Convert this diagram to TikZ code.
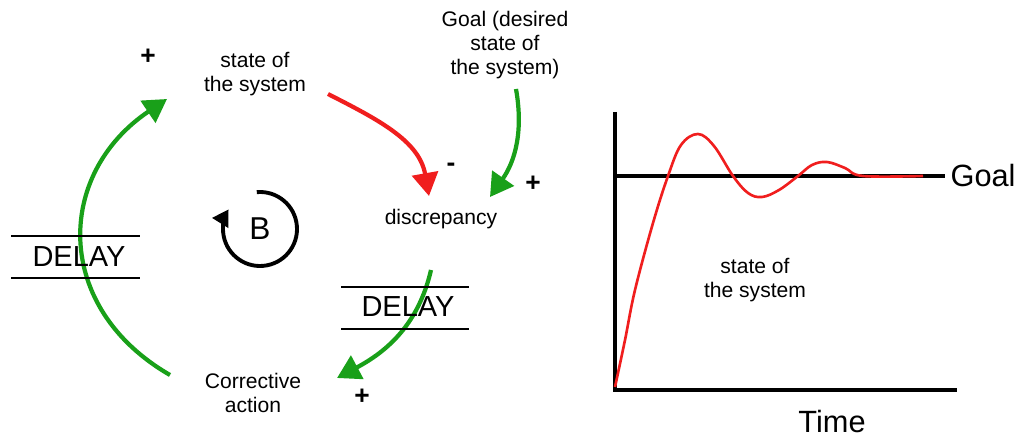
\documentclass[tikz,border=0pt]{standalone}
\usepackage{fontspec}
\setmainfont{Liberation Sans}
\usetikzlibrary{arrows.meta,calc}

\definecolor{loopgreen}{RGB}{25,160,25}
\definecolor{loopred}{RGB}{240,30,30}

\tikzset{
  txt/.style={font=\fontsize{12}{13.8}\selectfont, align=center, inner sep=0pt},
  sign/.style={font=\fontsize{15}{15}\selectfont\bfseries, inner sep=0pt},
  delaytxt/.style={font=\fontsize{16.5}{16.5}\selectfont, inner sep=0pt},
  bigtxt/.style={font=\fontsize{17.5}{17.5}\selectfont, inner sep=0pt},
  poslink/.style={draw=loopgreen, line width=2.4pt, -{Triangle[length=0.46cm,width=0.52cm]}},
  neglink/.style={draw=loopred, line width=2.4pt, -{Triangle[length=0.46cm,width=0.52cm]}},
  delayline/.style={draw=black, line width=0.6pt}
}

\begin{document}
\begin{tikzpicture}[x=0.02cm,y=0.02cm]
    \useasboundingbox (0,0) rectangle (1017,440);

    % Variables of the loop
    \node[txt] (state) at (255,366) {state of\\the system};
    \node[txt] (goal) at (505,395) {Goal (desired\\state of\\the system)};
    \node[txt] (discrepancy) at (441,221) {discrepancy};
    \node[txt] (action) at (253,47) {Corrective\\action};

    % Polarity signs
    \node[sign] (plusState) at (148,383) {+};
    \node[sign] (minusDisc) at (451,273) {-};
    \node[sign] (plusDisc) at (533,256) {+};
    \node[sign] (plusAction) at (362,43) {+};

    % Balancing loop marker
    \node[font=\fontsize{18}{18}\selectfont, inner sep=0pt] (B) at (260,211) {B};
    \draw[line width=2.2pt, -{Triangle[length=0.32cm,width=0.36cm]}]
        ($(B)+(95:37)$) arc[start angle=95, end angle=-212, radius=37];

    % End points of the links
    \coordinate (actionOut) at (170,65);
    \coordinate (stateIn) at (167,341);
    \coordinate (stateOut) at (328,346);
    \coordinate (discInRed) at (429,244);
    \coordinate (goalOut) at (516,351);
    \coordinate (discInGreen) at (490,243);
    \coordinate (discOut) at (431,170);
    \coordinate (actionIn) at (337,62);

    % Links
    \draw[poslink] (actionOut) to[out=150, in=214, looseness=1.25] (stateIn);
    \draw[neglink] (stateOut) to[out=-27, in=100] (discInRed);
    \draw[poslink] (goalOut) to[out=-80, in=55] (discInGreen);
    \draw[poslink] (discOut) to[out=-103, in=28] (actionIn);

    % Delays
    \node[delaytxt] (delayLeft) at (79,183) {DELAY};
    \draw[delayline] (11,204) -- (140,204);
    \draw[delayline] (11,162) -- (140,162);
    \node[delaytxt] (delayBottom) at (408,133) {DELAY};
    \draw[delayline] (341,153) -- (469,153);
    \draw[delayline] (341,111) -- (469,111);

    % Behaviour over time
    \coordinate (origin) at (615,50);
    \draw[line width=2.8pt] (615,328) -- (origin) -- (957,50);
    \draw[line width=2.4pt] (615,264) -- (945,264) node[bigtxt, anchor=west, xshift=2pt] (goalLabel) {Goal};
    \draw[loopred, line width=1.5pt] plot[smooth, tension=0.6] coordinates {
        (615,53) (625,100) (635,150) (653,217) (668,264) (681,295) (698,306)
        (714,294) (733,264) (748,247) (762,243) (779,250) (798,264) (812,275)
        (827,278) (845,272) (863,264) (923,264)};
    \node[txt] (stateCurve) at (755,160) {state of\\the system};
    \node[bigtxt] (time) at (832,18) {Time};

\end{tikzpicture}
\end{document}
